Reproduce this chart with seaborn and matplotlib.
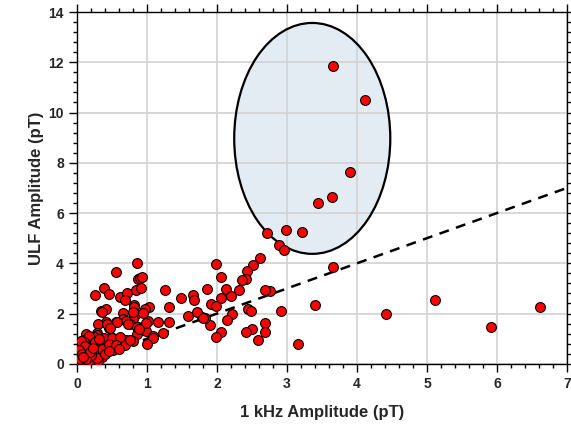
import numpy as np
import pandas as pd
import matplotlib
matplotlib.use("Agg")
import matplotlib.pyplot as plt
from matplotlib.patches import Ellipse
from matplotlib.ticker import MultipleLocator
import seaborn as sns

# 1 kHz amplitude (pT) vs ULF amplitude (pT)
khz = [3.65, 4.11, 3.90, 3.64, 3.44, 3.21, 2.99, 2.71,
       2.89, 2.96, 2.61, 2.52, 1.99, 2.43, 2.06, 2.41, 2.35, 3.65, 1.85, 2.13,
       2.32, 2.76, 2.05, 2.20, 1.91, 1.99, 2.44, 2.48, 2.92, 3.40, 4.41, 2.22,
       2.14, 1.90, 1.78, 1.83, 2.68, 2.69, 2.50, 2.41, 2.06, 1.98, 2.59, 3.16,
       5.12, 5.91, 6.62, 2.69,
       0.86, 0.55, 0.87, 0.90, 0.93, 0.38, 0.45, 0.25, 0.61, 0.71, 0.84, 0.92,
       0.69, 0.82, 1.26, 1.49, 1.65, 1.67, 1.31, 1.03, 0.97, 0.34, 0.41, 0.65,
       0.82, 0.83, 0.80, 0.66, 0.70, 0.75, 0.42, 0.56, 0.30, 0.46, 0.87, 0.99,
       1.02, 0.99, 1.16, 1.32, 1.58, 1.72, 1.80, 1.23, 1.09, 1.08, 1.00, 0.86,
       0.70, 0.61, 0.49, 0.50, 0.38, 0.28, 0.13, 0.20, 0.35, 0.80, 0.94, 0.43,
       0.73, 0.85, 0.28, 0.38, 0.50, 0.80, 0.08, 0.19, 0.30, 0.42, 0.52, 0.04,
       0.16, 0.26, 0.35, 0.02, 0.11, 0.21, 0.30, 0.09, 0.00, 0.88, 0.66, 0.68,
       0.61, 0.76, 0.57, 0.47,
       0.05, 0.10, 0.15, 0.20, 0.25, 0.12, 0.18, 0.06, 0.22, 0.30, 0.14, 0.24,
       0.33, 0.08, 0.15, 0.04, 0.28, 0.36, 0.40, 0.45, 0.17, 0.10, 0.26, 0.32,
       0.55, 0.60, 0.45, 0.05, 0.20, 0.12, 0.03, 0.07, 0.13, 0.18, 0.09, 0.23]
ulf = [11.85, 10.49, 7.65, 6.62, 6.39, 5.26, 5.33, 5.20,
       4.73, 4.53, 4.20, 3.92, 3.96, 3.71, 3.47, 3.39, 3.34, 3.84, 2.97, 2.97,
       2.93, 2.90, 2.61, 2.68, 2.37, 2.31, 2.17, 2.09, 2.09, 2.33, 1.99, 2.00,
       1.75, 1.56, 1.88, 1.83, 1.62, 1.26, 1.39, 1.27, 1.26, 1.06, 0.95, 0.78,
       2.53, 1.46, 2.28, 2.94,
       4.03, 3.67, 3.37, 3.40, 3.45, 3.01, 2.77, 2.73, 2.65, 2.80, 2.94, 3.02,
       2.52, 2.35, 2.94, 2.60, 2.72, 2.52, 2.25, 2.25, 2.20, 2.12, 2.20, 2.01,
       2.28, 1.95, 1.78, 1.78, 1.70, 1.59, 1.67, 1.67, 1.59, 1.42, 1.46, 1.32,
       1.72, 1.64, 1.68, 1.67, 1.92, 2.08, 1.82, 1.22, 1.09, 1.02, 0.80, 1.19,
       0.95, 0.89, 1.05, 0.56, 0.82, 1.22, 1.19, 0.95, 2.08, 2.08, 2.04, 1.59,
       1.59, 1.48, 1.15, 1.02, 1.02, 0.89, 0.76, 0.82, 0.72, 0.62, 0.56, 0.42,
       0.49, 0.36, 0.29, 0.16, 0.16, 0.16, 0.13, 0.95, 0.10, 1.38, 0.90, 0.75,
       1.06, 0.95, 1.68, 1.42,
       0.30, 0.50, 0.65, 0.55, 0.50, 0.35, 0.25, 0.60, 0.70, 0.90, 0.95, 1.05,
       0.45, 0.05, 0.08, 0.20, 0.25, 0.60, 0.40, 0.80, 1.10, 0.85, 0.85, 0.98,
       0.75, 0.60, 0.50, 0.90, 0.35, 0.70, 0.55, 0.40, 0.20, 0.45, 0.28, 0.62]

# 1:1 reference line
line_x = [0, 7]
line_y = [0, 7]

df = pd.DataFrame({"khz": khz, "ulf": ulf})

sns.set_style("white")
plt.rcParams["font.family"] = ["Liberation Sans", "DejaVu Sans"]

fig = plt.figure(figsize=(5.71, 4.29), dpi=100)
ax = fig.add_axes([0.135, 0.152, 0.858, 0.820])

ax.add_patch(Ellipse((3.36, 8.97), 2.23, 9.19, facecolor="#dde7f1", alpha=0.8,
                     edgecolor="none", zorder=0.5))
ax.add_patch(Ellipse((3.36, 8.97), 2.23, 9.19, facecolor="none",
                     edgecolor="black", lw=1.6, zorder=1.5))

ax.plot(line_x, line_y, ls=(0, (4, 3)), color="black", lw=1.8, zorder=2)

sns.scatterplot(data=df, x="khz", y="ulf", ax=ax, color="#ff0000",
                edgecolor="black", linewidth=0.8, s=50, zorder=3, legend=False)

ax.set_xlim(0, 7)
ax.set_ylim(0, 14)
ax.xaxis.set_major_locator(MultipleLocator(1))
ax.xaxis.set_minor_locator(MultipleLocator(0.2))
ax.yaxis.set_major_locator(MultipleLocator(2))
ax.yaxis.set_minor_locator(MultipleLocator(0.4))
ax.grid(True, which="major", color="#d4d4d4", lw=1.3, zorder=0)
ax.set_axisbelow(True)

ax.tick_params(which="both", direction="out", bottom=True, left=True,
               top=True, right=True, labelsize=10, width=1, color="black")
ax.tick_params(which="major", length=6)
ax.tick_params(which="minor", length=3)
for lab in ax.get_xticklabels() + ax.get_yticklabels():
    lab.set_fontweight("bold")
for sp in ax.spines.values():
    sp.set_color("black")
    sp.set_linewidth(1)

ax.set_xlabel("1 kHz Amplitude (pT)", fontsize=12, fontweight="bold", labelpad=10)
ax.set_ylabel("ULF Amplitude (pT)", fontsize=12, fontweight="bold", labelpad=3)

fig.savefig("out.png", dpi=100)
